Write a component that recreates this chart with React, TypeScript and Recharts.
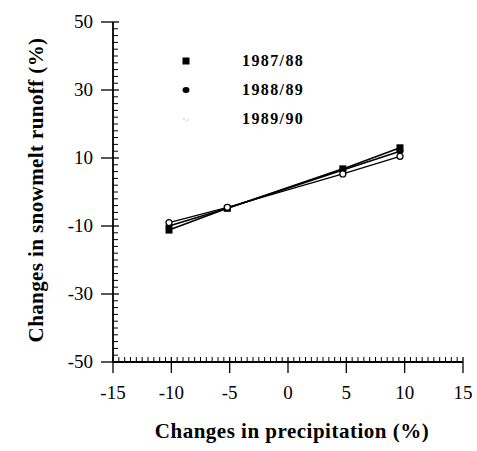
import React from 'react';
import { LineChart, Line, XAxis, YAxis, Label } from 'recharts';

const precipChange = [-10.2, -5.2, 4.7, 9.6];
const runoff8788 = [-11.2, -4.8, 6.8, 13];
const runoff8889 = [-10, -4.8, 6.5, 12];
const runoff8990 = [-9, -4.5, 5.3, 10.5];
const seasons = ['1987/88', '1988/89', '1989/90'];
const xMajorTicks = [-15, -10, -5, 0, 5, 10, 15];
const yMajorTicks = [-50, -30, -10, 10, 30, 50];

const data = precipChange.map((p, i) => ({
  p,
  s0: runoff8788[i],
  s1: runoff8889[i],
  s2: runoff8990[i],
}));

const xAllTicks: number[] = [];
for (let v = -15; v <= 15.001; v += 0.5) xAllTicks.push(Math.round(v * 10) / 10);
const yAllTicks: number[] = [];
for (let v = -50; v <= 50.001; v += 2) yAllTicks.push(v);

const serif = '"Liberation Serif", "Times New Roman", serif';

const XTick = (props: any) => {
  const { x, y, payload } = props;
  const v = payload.value;
  const major = xMajorTicks.includes(v);
  return (
    <g>
      {major ? (
        <line x1={x} x2={x} y1={y - 5} y2={y + 11} stroke="#000" strokeWidth={1.3} />
      ) : (
        <line x1={x} x2={x} y1={y} y2={y - 5} stroke="#000" strokeWidth={1} />
      )}
      {major && (
        <text x={x} y={y + 37} textAnchor="middle" fontFamily={serif} fontSize={19} fill="#000">
          {v}
        </text>
      )}
    </g>
  );
};

const YTick = (props: any) => {
  const { x, y, payload } = props;
  const v = payload.value;
  const major = yMajorTicks.includes(v);
  return (
    <g>
      {major ? (
        <line x1={x - 12} x2={x + 6} y1={y} y2={y} stroke="#000" strokeWidth={1.3} />
      ) : (
        <line x1={x} x2={x + 5} y1={y} y2={y} stroke="#000" strokeWidth={1} />
      )}
      {major && (
        <text x={x - 20} y={y + 6} textAnchor="end" fontFamily={serif} fontSize={19} fill="#000">
          {v}
        </text>
      )}
    </g>
  );
};

const Marker = ({ idx, cx, cy }: { idx: number; cx: number; cy: number }) => {
  if (idx === 0) return <rect x={cx - 3.5} y={cy - 3.5} width={7} height={7} fill="#000" />;
  if (idx === 1) return <ellipse cx={cx} cy={cy} rx={3.5} ry={3} fill="#000" />;
  return <circle cx={cx} cy={cy} r={3} fill="#fff" stroke="#000" strokeWidth={1.2} />;
};

const makeDot = (idx: number) => (props: any) => {
  const { cx, cy, index } = props;
  return <Marker key={`d${idx}-${index}`} idx={idx} cx={cx} cy={cy} />;
};

const LegendBox = () => (
  <div
    style={{
      position: 'absolute',
      left: 178,
      top: 46,
      fontFamily: serif,
      fontWeight: 'bold',
      fontSize: 16,
      letterSpacing: 1.4,
    }}
  >
    {seasons.map((s, i) => (
      <div key={s} style={{ display: 'flex', alignItems: 'center', height: 29 }}>
        <svg width={64} height={16} style={{ display: 'block' }}>
          {i === 2 ? (
            <g fill="#bbb">
              <circle cx={6} cy={8} r={0.8} />
              <circle cx={10} cy={9} r={0.8} />
              <circle cx={8} cy={10} r={0.6} />
            </g>
          ) : (
            <Marker idx={i} cx={8} cy={8} />
          )}
        </svg>
        <span style={{ color: '#000' }}>{s}</span>
      </div>
    ))}
  </div>
);

const YLabel = () => (
  <text
    x={43}
    y={190}
    transform="rotate(-90 43 190)"
    textAnchor="middle"
    fontFamily={serif}
    fontWeight="bold"
    fontSize={21}
    letterSpacing={0.4}
    fill="#000"
  >
    Changes in snowmelt runoff (%)
  </text>
);

const XLabel = () => (
  <text
    x={292}
    y={438}
    textAnchor="middle"
    fontFamily={serif}
    fontWeight="bold"
    fontSize={21}
    letterSpacing={0.5}
    fill="#000"
  >
    Changes in precipitation (%)
  </text>
);

export default function App() {
  return (
    <div style={{ position: 'absolute', left: 0, top: 0, width: 477, height: 451, background: '#fff' }}>
      <LineChart width={477} height={451} data={data} margin={{ top: 22, right: 14, bottom: 0, left: 0 }}>
        <XAxis
          dataKey="p"
          type="number"
          domain={[-15, 15]}
          ticks={xAllTicks}
          interval={0}
          tickSize={0}
          tickMargin={0}
          tickLine={false}
          tick={<XTick />}
          height={89}
          stroke="#000"
          strokeWidth={1.8}
          allowDataOverflow
        >
          <Label content={<XLabel />} />
        </XAxis>
        <YAxis
          type="number"
          domain={[-50, 50]}
          ticks={yAllTicks}
          interval={0}
          tickSize={0}
          tickMargin={0}
          tickLine={false}
          tick={<YTick />}
          width={113}
          stroke="#000"
          strokeWidth={1.8}
          allowDataOverflow
        >
          <Label content={<YLabel />} />
        </YAxis>
        <Line dataKey="s0" stroke="#000" strokeWidth={1.6} dot={makeDot(0)} isAnimationActive={false} />
        <Line dataKey="s1" stroke="#000" strokeWidth={1.6} dot={makeDot(1)} isAnimationActive={false} />
        <Line dataKey="s2" stroke="#000" strokeWidth={1.3} dot={makeDot(2)} isAnimationActive={false} />
      </LineChart>
      <LegendBox />
    </div>
  );
}
